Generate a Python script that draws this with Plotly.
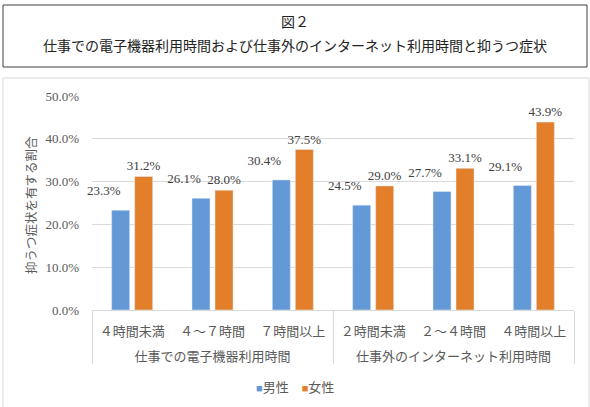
import plotly.graph_objects as go

groups = ["<br>仕事での電子機器利用時間"] * 3 + ["<br>仕事外のインターネット利用時間"] * 3
categories = ["４時間未満", "４～７時間", "７時間以上", "２時間未満", "２～４時間", "４時間以上"]
male = [0.233, 0.261, 0.304, 0.245, 0.277, 0.291]
female = [0.312, 0.280, 0.375, 0.290, 0.331, 0.439]
series_names = ["男性", "女性"]
y_ticks = [0.0, 0.1, 0.2, 0.3, 0.4, 0.5]

FONT = "Liberation Serif, Noto Sans CJK JP, serif"
W, H = 590, 407
L, R, T, B = 92, 16, 96, 97
PW, PH = W - L - R, H - T - B
COLORS = ["#6399D6", "#E37E2B"]
NB = "\u00a0"


def px(x):
    return (x - L) / PW


def py(y):
    return (H - B - y) / PH


fig = go.Figure()
# Male bars: labels drawn by a text trace anchored left of the category centre (as in the source)
fig.add_trace(go.Bar(x=[groups, categories], y=male, name=series_names[0],
                     marker_color=COLORS[0], showlegend=False))
fig.add_trace(go.Bar(x=[groups, categories], y=female, name=series_names[1],
                     marker_color=COLORS[1], showlegend=False,
                     texttemplate="%{y:.1%}", textposition="outside", cliponaxis=False,
                     constraintext="none",
                     textfont=dict(size=13, color="#404040", family=FONT)))
fig.add_trace(go.Scatter(x=[groups, categories], y=male, mode="markers+text",
                         marker=dict(size=17, opacity=0), texttemplate="%{y:.1%}",
                         textposition="top left", cliponaxis=False, showlegend=False,
                         hoverinfo="skip",
                         textfont=dict(size=13, color="#404040", family=FONT)))

legend_text = (NB * 4).join(
    f"<span style='color:{c};font-size:11px'>■</span>{n}" for c, n in zip(COLORS, series_names)
)

fig.update_layout(
    width=W, height=H,
    margin=dict(l=L, r=R, t=T, b=B, autoexpand=False),
    paper_bgcolor="white", plot_bgcolor="white",
    font=dict(family=FONT, color="#595959", size=13),
    barmode="group", bargap=0.427, bargroupgap=0.217,
    showlegend=False,
    xaxis=dict(type="multicategory", showline=True, linecolor="#D9D9D9", linewidth=1,
               showdividers=True, dividercolor="#D9D9D9", dividerwidth=1, automargin=False,
               tickfont=dict(size=13, color="#595959"), ticks="", ticklabelstandoff=9),
    yaxis=dict(range=[0, 0.5], tickvals=y_ticks, tickformat=".1%", showgrid=True,
               gridcolor="#D9D9D9", zeroline=False, showline=False, ticks="", automargin=False,
               tickfont=dict(size=13, color="#595959"), ticklabelstandoff=12),
    shapes=[
        dict(type="rect", xref="paper", yref="paper", x0=px(3), x1=px(587), y0=py(67), y1=py(5),
             line=dict(color="#404040", width=1)),
        dict(type="rect", xref="paper", yref="paper", x0=px(3), x1=px(589), y0=py(412), y1=py(78),
             line=dict(color="#D9D9D9", width=1)),
    ],
    annotations=[
        dict(text="図２", xref="paper", yref="paper", x=px(295), y=py(22), showarrow=False,
             font=dict(size=14, color="#222222"), xanchor="center", yanchor="middle"),
        dict(text="仕事での電子機器利用時間および仕事外のインターネット利用時間と抑うつ症状",
             xref="paper", yref="paper", x=px(295), y=py(47), showarrow=False,
             font=dict(size=14, color="#222222"), xanchor="center", yanchor="middle"),
        dict(text="抑うつ症状を有する割合", xref="paper", yref="paper", x=px(32), y=py(205),
             showarrow=False, textangle=-90, font=dict(size=12.5, color="#595959"),
             xanchor="center", yanchor="middle"),
        dict(text=legend_text, xref="paper", yref="paper", x=px(295), y=py(387),
             showarrow=False, font=dict(size=13, color="#595959"),
             xanchor="center", yanchor="middle"),
    ],
)

fig.write_html("out.html")
